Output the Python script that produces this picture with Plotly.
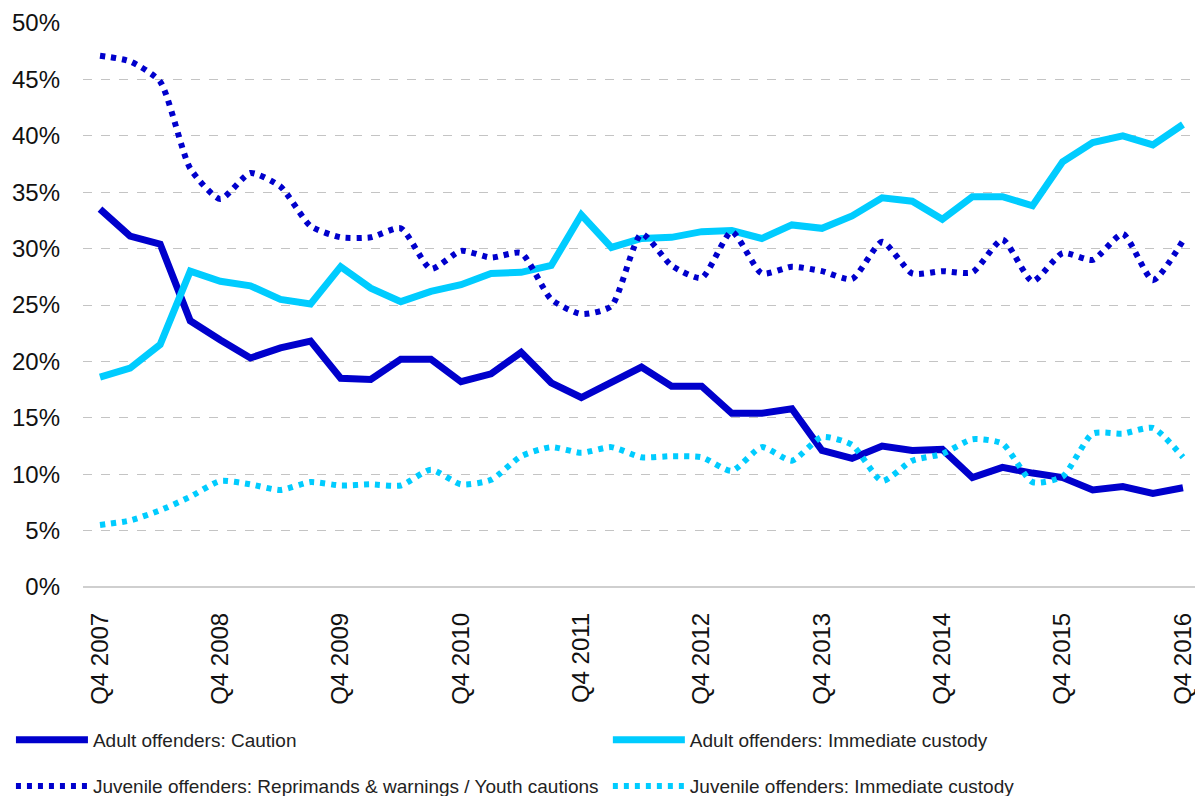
import plotly.graph_objects as go

# quarterly series, Q4 2007 .. Q4 2016 (share of offenders, %)
quarters = ["Q4 2007"] + [f"Q{q} {y}" for y in range(2008, 2017) for q in (1, 2, 3, 4)]
year_ticks = [f"Q4 {y}" for y in range(2007, 2017)]

adult_caution = [
    33.5, 31.1, 30.4, 23.6, 21.9, 20.3, 21.2, 21.8, 18.5, 18.4,
    20.2, 20.2, 18.2, 18.9, 20.8, 18.1, 16.8, 18.1, 19.5, 17.8,
    17.8, 15.4, 15.4, 15.8, 12.1, 11.4, 12.5, 12.1, 12.2, 9.7,
    10.6, 10.1, 9.7, 8.6, 8.9, 8.3, 8.8,
]
adult_custody = [
    18.6, 19.4, 21.5, 28.0, 27.1, 26.7, 25.5, 25.1, 28.4, 26.5,
    25.3, 26.2, 26.8, 27.8, 27.9, 28.5, 33.0, 30.1, 30.9, 31.0,
    31.5, 31.6, 30.9, 32.1, 31.8, 32.9, 34.5, 34.2, 32.6, 34.6,
    34.6, 33.8, 37.7, 39.4, 40.0, 39.2, 41.0,
]
juvenile_caution = [
    47.1, 46.6, 44.8, 37.1, 34.4, 36.7, 35.5, 32.0, 31.0, 31.0,
    31.8, 28.2, 29.8, 29.2, 29.6, 25.5, 24.2, 24.9, 31.3, 28.5,
    27.4, 31.5, 27.8, 28.4, 28.0, 27.3, 30.6, 27.8, 28.0, 27.9,
    30.8, 27.1, 29.6, 29.0, 31.3, 27.2, 30.7,
]
juvenile_custody = [
    5.5, 5.9, 6.8, 8.0, 9.4, 9.1, 8.6, 9.3, 9.0, 9.1,
    9.0, 10.4, 9.1, 9.5, 11.6, 12.4, 11.9, 12.4, 11.5, 11.6,
    11.5, 10.3, 12.4, 11.2, 13.3, 12.6, 9.4, 11.2, 11.8, 13.1,
    12.7, 9.3, 9.8, 13.6, 13.6, 14.1, 11.5,
]

DARK = "#0000CC"
LIGHT = "#00CCFF"
FONT = "Liberation Sans, Arial, sans-serif"

solid = dict(width=7)
dotted = dict(width=6, dash="5px,6px", shape="spline", smoothing=0.6)

fig = go.Figure()
fig.add_trace(go.Scatter(
    x=quarters, y=adult_caution, mode="lines", name="Adult offenders: Caution",
    line=dict(color=DARK, **solid), legend="legend",
))
fig.add_trace(go.Scatter(
    x=quarters, y=adult_custody, mode="lines", name="Adult offenders: Immediate custody",
    line=dict(color=LIGHT, **solid), legend="legend2",
))
fig.add_trace(go.Scatter(
    x=quarters, y=juvenile_caution, mode="lines",
    name="Juvenile offenders: Reprimands & warnings / Youth cautions",
    line=dict(color=DARK, **dotted), legend="legend3",
))
fig.add_trace(go.Scatter(
    x=quarters, y=juvenile_custody, mode="lines", name="Juvenile offenders: Immediate custody",
    line=dict(color=LIGHT, **dotted), legend="legend4",
))


def legend_box(x, y):
    # one legend per entry so the 2x2 grid sits where the original has it
    return dict(
        orientation="h", xanchor="left", yanchor="middle", x=x, y=y,
        font=dict(family=FONT, size=19, color="#222222"),
        itemwidth=72, bgcolor="rgba(0,0,0,0)", itemclick=False,
    )


col1, col2 = -0.0648, 0.472
row1, row2 = -0.271, -0.353

fig.update_layout(
    width=1195, height=796,
    margin=dict(l=83, r=0, t=23, b=209, autoexpand=False),
    paper_bgcolor="white", plot_bgcolor="white",
    font=dict(family=FONT, size=24, color="#111111"),
    showlegend=True,
    legend=legend_box(col1, row1),
    legend2=legend_box(col2, row1),
    legend3=legend_box(col1, row2),
    legend4=legend_box(col2, row2),
    xaxis=dict(
        type="category", range=[-0.565, 36.4],
        tickmode="array", tickvals=year_ticks, ticktext=year_ticks,
        tickangle=-90, tickfont=dict(size=24),
        showgrid=False, showline=False, zeroline=False,
        ticks="", ticklabelstandoff=20,
    ),
    yaxis=dict(
        range=[0, 50], dtick=5, ticksuffix="%",
        showgrid=True, gridcolor="#c4c4c4", griddash="dash", gridwidth=1,
        zeroline=True, zerolinecolor="#cfcfcf", zerolinewidth=2,
        showline=False, ticks="", ticklabelstandoff=22,
    ),
)

# the default page has an 8px body margin; drop it so the figure fills the window
fig.write_html(
    "out.html",
    config={"displayModeBar": False},
    post_script="document.body.style.margin = '0';",
)
